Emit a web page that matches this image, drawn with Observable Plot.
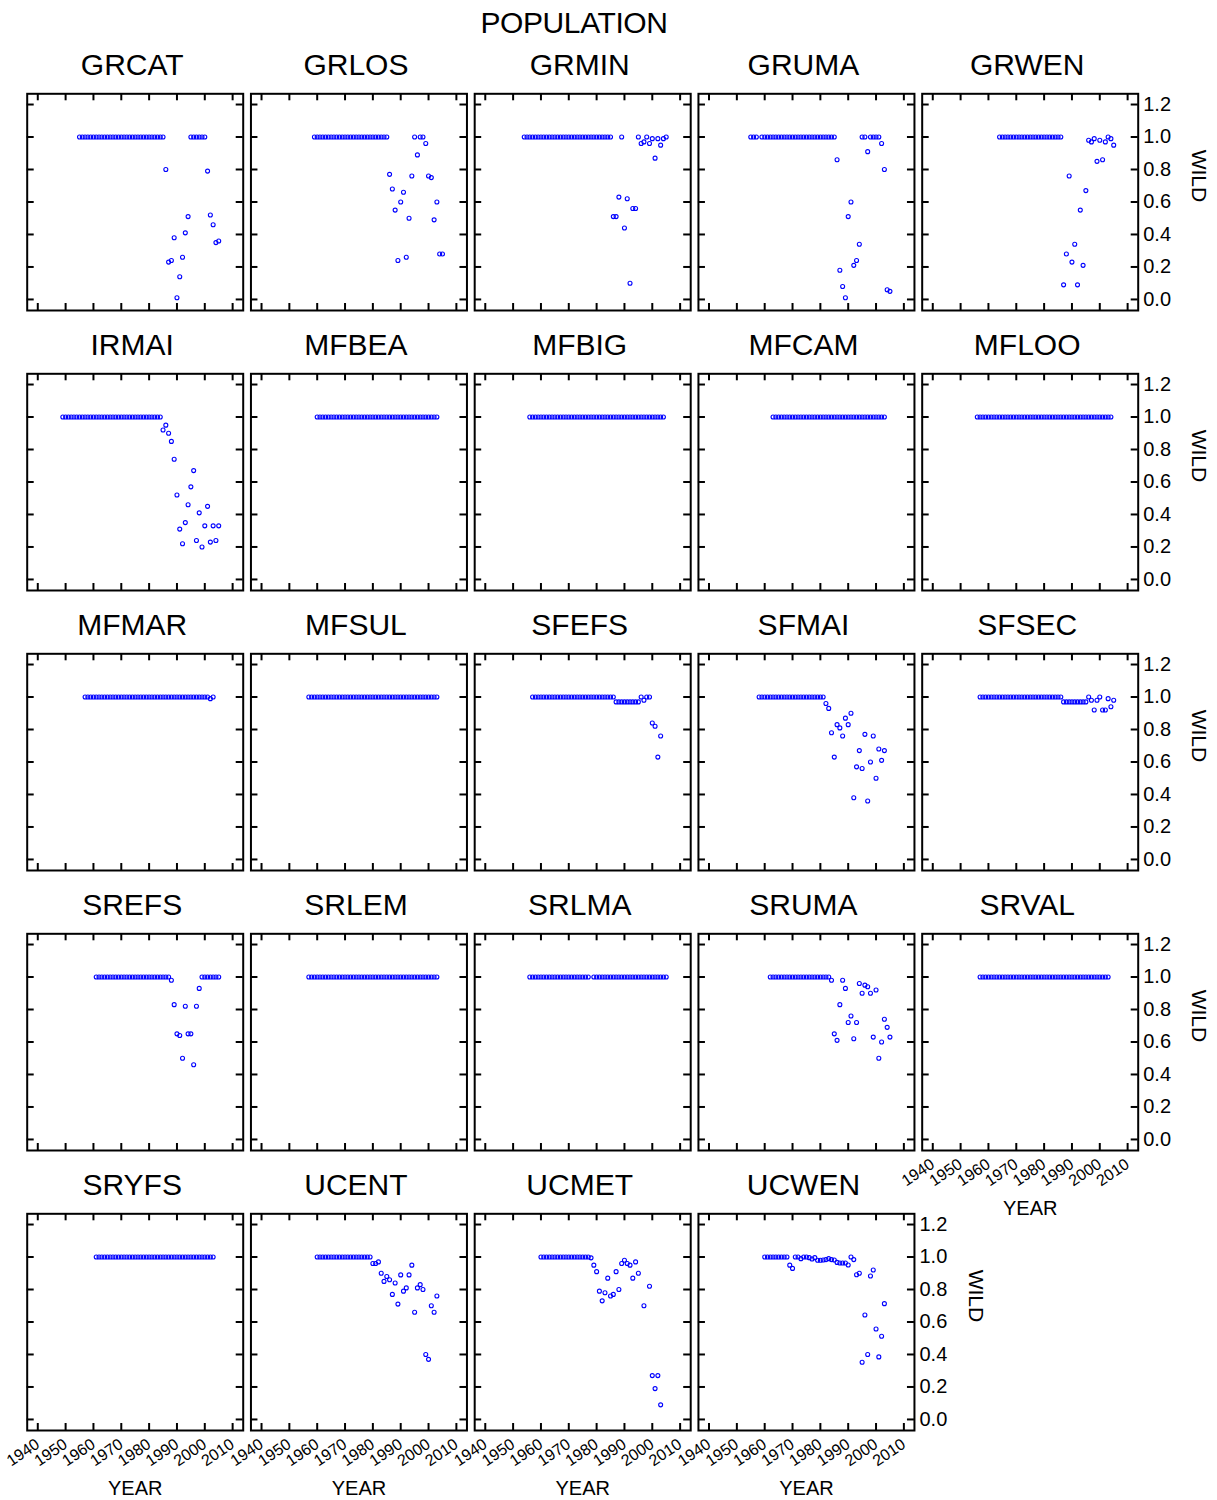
<!DOCTYPE html>
<html>
<head>
<meta charset="utf-8">
<script src="https://cdn.jsdelivr.net/npm/d3@7"></script>
<script src="https://cdn.jsdelivr.net/npm/@observablehq/plot@0.6"></script>
<style>
  body { margin: 0; background: #fff; font-family: "Liberation Sans", Arial, sans-serif; }
  #wrap { position: relative; width: 1217px; height: 1500px; }
  #chart { position: absolute; left: 0; top: 0; }
  #title { position: absolute; left: 0; top: 8px; width: 1148px; text-align: center;
           font-size: 30px; line-height: 29px; color: #000; letter-spacing: -0.4px; }
</style>
</head>
<body>
<div id="wrap"><div id="chart"></div><div id="title">POPULATION</div></div>
<script>
const panelNames = ["GRCAT","GRLOS","GRMIN","GRUMA","GRWEN",
                    "IRMAI","MFBEA","MFBIG","MFCAM","MFLOO",
                    "MFMAR","MFSUL","SFEFS","SFMAI","SFSEC",
                    "SREFS","SRLEM","SRLMA","SRUMA","SRVAL",
                    "SRYFS","UCENT","UCMET","UCWEN"];
const startYears = [1955,1959,1954,1955,1964,
                    1949,1960,1956,1963,1956,
                    1957,1957,1957,1958,1957,
                    1961,1957,1956,1962,1957,
                    1961,1960,1960,1960];
const xTicks = [1940,1950,1960,1970,1980,1990,2000,2010];
const yTicks = [0.0,0.2,0.4,0.6,0.8,1.0,1.2];

const GRCAT = [1,1,1,1,1,1,1,1,1,1, 1,1,1,1,1,1,1,1,1,1, 1,1,1,1,1,1,1,1,1,1, 1,
  0.80,0.23,0.24,0.38,0.01,0.14,0.26,0.41,0.51, 1,1,1,1,1,1, 0.79,0.52,0.46,0.35,0.36];
const GRLOS = [1,1,1,1,1,1,1,1,1,1, 1,1,1,1,1,1,1,1,1,1, 1,1,1,1,1,1,1,
  0.77,0.68,0.55,0.24,0.60,0.66,0.26,0.50,0.76,1,0.89,1,1,0.96,0.76,0.75,0.49,0.60,0.28,0.28];
const GRMIN = [1,1,1,1,1,1,1,1,1,1, 1,1,1,1,1,1,1,1,1,1, 1,1,1,1,1,1,1,1,1,1, 1,1,
  0.51,0.51,0.63,1,0.44,0.62,0.10,0.56,0.56,1,0.96,0.97,1,0.96,0.99,0.87,0.99,0.95,0.99,1];
const GRUMA = [1,1,1, null, 1,1,1,1,1,1,1,1,1,1, 1,1,1,1,1,1,1,1,1,1, 1,1,1,1,1,1,1,
  0.86,0.18,0.08,0.01,0.51,0.60,0.21,0.24,0.34,1,1,0.91,1,1,1,1,0.96,0.80,0.06,0.05];
const GRWEN = [1,1,1,1,1,1,1,1,1,1, 1,1,1,1,1,1,1,1,1,1, 1,1,1,
  0.09,0.28,0.76,0.23,0.34,0.09,0.55,0.21,0.67,0.98,0.97,0.99,0.85,0.98,0.86,0.97,1.0,0.99,0.95];
const IRMAI = [1,1,1,1,1,1,1,1,1,1, 1,1,1,1,1,1,1,1,1,1, 1,1,1,1,1,1,1,1,1,1, 1,1,1,1,1,1,
  0.92,0.95,0.90,0.85,0.74,0.52,0.31,0.22,0.35,0.46,0.57,0.67,0.24,0.41,0.20,0.33,0.45,0.23,0.33,0.24,0.33];
const MFBEA = [1,1,1,1,1,1,1,1,1,1, 1,1,1,1,1,1,1,1,1,1, 1,1,1,1,1,1,1,1,1,1, 1,1,1,1,1,1,1,1,1,1, 1,1,1,1];
const MFBIG = [1,1,1,1,1,1,1,1,1,1, 1,1,1,1,1,1,1,1,1,1, 1,1,1,1,1,1,1,1,1,1, 1,1,1,1,1,1,1,1,1,1, 1,1,1,1,1,1,1,1,1];
const MFCAM = [1,1,1,1,1,1,1,1,1,1, 1,1,1,1,1,1,1,1,1,1, 1,1,1,1,1,1,1,1,1,1, 1,1,1,1,1,1,1,1,1,1, 1];
const MFLOO = [1,1,1,1,1,1,1,1,1,1, 1,1,1,1,1,1,1,1,1,1, 1,1,1,1,1,1,1,1,1,1, 1,1,1,1,1,1,1,1,1,1, 1,1,1,1,1,1,1,1,1];
const MFMAR = [1,1,1,1,1,1,1,1,1,1, 1,1,1,1,1,1,1,1,1,1, 1,1,1,1,1,1,1,1,1,1, 1,1,1,1,1,1,1,1,1,1, 1,1,1,1,1, 0.99,1];
const MFSUL = [1,1,1,1,1,1,1,1,1,1, 1,1,1,1,1,1,1,1,1,1, 1,1,1,1,1,1,1,1,1,1, 1,1,1,1,1,1,1,1,1,1, 1,1,1,1,1,1,1];
const SFEFS = [1,1,1,1,1,1,1,1,1,1, 1,1,1,1,1,1,1,1,1,1, 1,1,1,1,1,1,1,1,1,1,
  0.97,0.97,0.97,0.97,0.97,0.97,0.97,0.97,0.97, 1,0.98,1,1,0.84,0.82,0.63,0.76];
const SFMAI = [1,1,1,1,1,1,1,1,1,1, 1,1,1,1,1,1,1,1,1,1, 1,1,1,1,
  0.96,0.93,0.78,0.63,0.83,0.81,0.76,0.87,0.83,0.90,0.38,0.57,0.67,0.56,0.77,0.36,0.60,0.76,0.50,0.68,0.61,0.67];
const SFSEC = [1,1,1,1,1,1,1,1,1,1, 1,1,1,1,1,1,1,1,1,1, 1,1,1,1,1,1,1,1,1,1,
  0.97,0.97,0.97,0.97,0.97,0.97,0.97,0.97,0.97, 1,0.98,0.92,0.98,1,0.92,0.92,0.99,0.94,0.98];
const SREFS = [1,1,1,1,1,1,1,1,1,1, 1,1,1,1,1,1,1,1,1,1, 1,1,1,1,1,1,1,
  0.98,0.83,0.65,0.64,0.50,0.82,0.65,0.65,0.46,0.82,0.93, 1,1,1,1,1,1,1];
const SRLEM = [1,1,1,1,1,1,1,1,1,1, 1,1,1,1,1,1,1,1,1,1, 1,1,1,1,1,1,1,1,1,1, 1,1,1,1,1,1,1,1,1,1, 1,1,1,1,1,1,1];
const SRLMA = [1,1,1,1,1,1,1,1,1,1, 1,1,1,1,1,1,1,1,1,1, 1,1, null,
  1,1,1,1,1,1,1,1,1,1, 1,1,1,1,1,1,1,1,1,1, 1,1,1,1,1,1,1];
const SRUMA = [1,1,1,1,1,1,1,1,1,1, 1,1,1,1,1,1,1,1,1,1, 1,1,
  0.98,0.65,0.61,0.83,0.98,0.93,0.72,0.76,0.62,0.72,0.96,0.90,0.95,0.94,0.90,0.63,0.92,0.50,0.60,0.74,0.69,0.63];
const SRVAL = [1,1,1,1,1,1,1,1,1,1, 1,1,1,1,1,1,1,1,1,1, 1,1,1,1,1,1,1,1,1,1, 1,1,1,1,1,1,1,1,1,1, 1,1,1,1,1,1,1];
const SRYFS = [1,1,1,1,1,1,1,1,1,1, 1,1,1,1,1,1,1,1,1,1, 1,1,1,1,1,1,1,1,1,1, 1,1,1,1,1,1,1,1,1,1, 1,1,1];
const UCENT = [1,1,1,1,1,1,1,1,1,1, 1,1,1,1,1,1,1,1,1,1,
  0.96,0.96,0.97,0.90,0.85,0.88,0.86,0.77,0.84,0.71,0.89,0.79,0.81,0.89,0.95,0.66,0.81,0.83,0.80,0.40,0.37,0.70,0.66,0.76];
const UCMET = [1,1,1,1,1,1,1,1,1,1, 1,1,1,1,1,1,1,1, 0.995,
  0.95,0.91,0.79,0.73,0.78,0.87,0.76,0.77,0.91,0.80,0.96,0.98,0.96,0.95,0.87,0.97,0.90,
  null,0.70,null,0.82,0.27,0.19,0.27,0.09];
const UCWEN = [1,1,1,1,1,1,1,1,1, 0.95,0.93,
  1,1,0.99,1,1,0.996,0.988,0.996,0.98,0.98,0.982,0.984,0.99,0.984,0.982,0.967,0.963,0.963,0.963,0.951,
  1,0.984,0.891,0.90,0.352,0.643,0.40,0.883,0.92,0.557,0.385,0.512,0.713];

const series = [GRCAT,GRLOS,GRMIN,GRUMA,GRWEN,IRMAI,MFBEA,MFBIG,MFCAM,MFLOO,
                MFMAR,MFSUL,SFEFS,SFMAI,SFSEC,SREFS,SRLEM,SRLMA,SRUMA,SRVAL,
                SRYFS,UCENT,UCMET,UCWEN];

// ---- tables built from the arrays ----
const NCOL = 5;
const rows = panelNames.flatMap((name, i) =>
  series[i].map((v, j) => ({name, col: i % NCOL, row: Math.floor(i / NCOL), year: startYears[i] + j, wild: v}))
).filter(d => d.wild != null);
const panels = panelNames.map((name, i) => ({name, col: i % NCOL, row: Math.floor(i / NCOL)}));
const rightLabelled = panels.filter((p, i) => p.col === NCOL - 1 || i === panels.length - 1);
const bottomLabelled = panels.filter((p, i) => p.row === 4 || i + NCOL >= panels.length);

// ---- layout ----
const W = 1217, H = 1500;
const mL = 26.7, mR = 79.3, mT = 93.3, mB = 70;
const padX = 0.0346, padY = 0.2261;
const cellW = (W - mL - mR) / (NCOL - padX) * (1 - padX);
const cellH = (H - mT - mB) / (5 - padY) * (1 - padY);
const TK = 7;
const font = "'Liberation Sans', Arial, sans-serif";

const chart = Plot.plot({
  width: W, height: H,
  marginLeft: mL, marginRight: mR, marginTop: mT, marginBottom: mB,
  style: {fontFamily: font, background: "white", color: "black", overflow: "visible"},
  x: {domain: [1936.2, 2013.8]},
  y: {domain: [-0.068, 1.266]},
  fx: {domain: [0,1,2,3,4], axis: null, paddingInner: padX, paddingOuter: 0, round: false},
  fy: {domain: [0,1,2,3,4], axis: null, paddingInner: padY, paddingOuter: 0, round: false},
  marks: [
    Plot.frame({stroke: "black", strokeWidth: 2}),
    Plot.tickX(xTicks, {x: d => d, insetTop: cellH - TK, stroke: "black", strokeWidth: 2}),
    Plot.tickX(xTicks, {x: d => d, insetBottom: cellH - TK, stroke: "black", strokeWidth: 2}),
    Plot.tickY(yTicks, {y: d => d, insetLeft: cellW - TK, stroke: "black", strokeWidth: 2}),
    Plot.tickY(yTicks, {y: d => d, insetRight: cellW - TK, stroke: "black", strokeWidth: 2}),
    Plot.dot(rows, {x: "year", y: "wild", fx: "col", fy: "row", r: 2,
                    stroke: "#0000ff", strokeWidth: 1.1, fill: "none"}),
    Plot.axisY(yTicks, {anchor: "right", facetAnchor: "right-empty", tickSize: 0, tickPadding: 5,
                        tickFormat: d3.format(".1f"), fontSize: 20, label: null}),
    Plot.axisX(xTicks, {anchor: "bottom", facetAnchor: "bottom-empty", tickSize: 0, tickPadding: 12,
                        tickRotate: -34, tickFormat: d => String(d), fontSize: 16, label: null}),
    Plot.text(panels, {fx: "col", fy: "row", text: "name", frameAnchor: "top", dy: -18.5, dx: -3,
                       lineAnchor: "bottom", fontSize: 30, fill: "black"}),
    Plot.text(rightLabelled, {fx: "col", fy: "row", text: () => "WILD", frameAnchor: "right", dx: 61,
                              rotate: 90, lineAnchor: "middle", fontSize: 21, fill: "black"}),
    Plot.text(bottomLabelled, {fx: "col", fy: "row", text: () => "YEAR", frameAnchor: "bottom", dy: 58.5,
                               lineAnchor: "middle", fontSize: 20, fill: "black"})
  ]
});
document.getElementById("chart").appendChild(chart);
</script>
</body>
</html>
